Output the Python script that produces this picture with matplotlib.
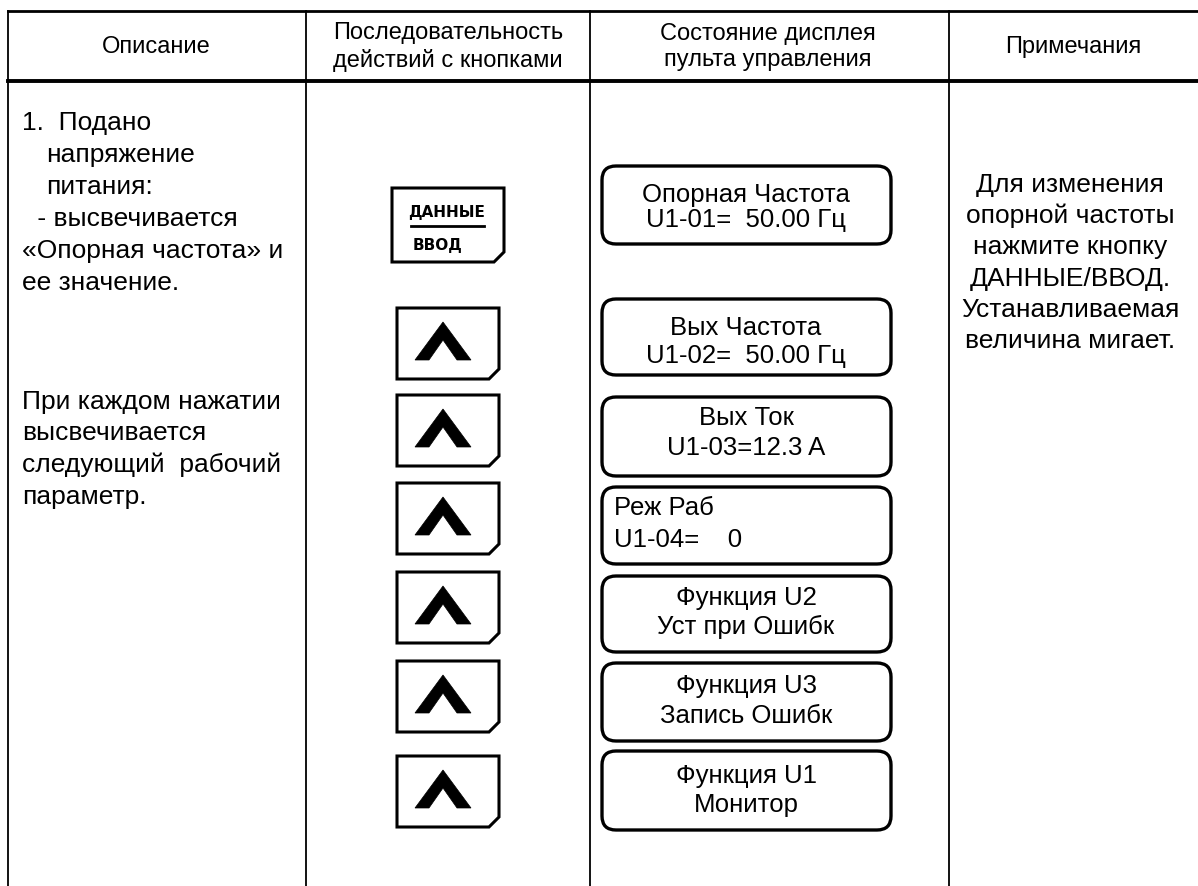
import matplotlib.pyplot as plt
from matplotlib.patches import FancyBboxPatch, Polygon

plt.rcParams['font.family'] = ['Liberation Sans', 'DejaVu Sans']

# table text
headers = ["Описание",
           "Последовательность\nдействий с кнопками",
           "Состояние дисплея\nпульта управления",
           "Примечания"]
desc_lines = ["1.  Подано", "напряжение", "питания:", " - высвечивается",
              "«Опорная частота» и", "ее значение.",
              "При каждом нажатии", "высвечивается", "следующий  рабочий", "параметр."]
notes_lines = ["Для изменения", "опорной частоты", "нажмите кнопку",
               "ДАННЫЕ/ВВОД.", "Устанавливаемая", "величина мигает."]
display_line1 = ["Опорная Частота", "Вых Частота", "Вых Ток", "Реж Раб",
                 "Функция U2", "Функция U3", "Функция U1"]
display_line2 = ["U1-01=  50.00 Гц", "U1-02=  50.00 Гц", "U1-03=12.3 A", "U1-04=    0",
                 "Уст при Ошибк", "Запись Ошибк", "Монитор"]
display_align = ["center", "center", "center", "left", "center", "center", "center"]
enter_key = ["ДАННЫЕ", "ВВОД"]

# layout (pixel coordinates)
col_x = [8, 306, 590, 949]
desc_pos = [(22, 123), (46, 155), (46, 187), (30, 219), (22, 251), (22, 283),
            (22, 402), (22, 433), (22, 465), (22, 497)]
box_y = [(167, 245), (300, 376), (398, 477), (488, 565), (577, 653), (664, 742), (752, 831)]
text_dy = [(28, 53), (28, 56), (20, 50), (20, 52), (21, 50), (22, 52), (24, 53)]
up_y = [309, 396, 484, 573, 662, 757]

fig = plt.figure(figsize=(11.98, 8.87), dpi=100)
ax = fig.add_axes([0, 0, 1, 1])
ax.set_xlim(0, 1198)
ax.set_ylim(887, 0)
ax.axis('off')

# grid lines
ax.plot([col_x[0], 1198], [12, 12], color='black', lw=2.0)
ax.plot([col_x[0], 1198], [82, 82], color='black', lw=2.8)
for x in col_x:
    ax.plot([x, x], [12, 887], color='black', lw=1.3)

# headers
head_cx = [156, 448, 768, 1073]
for cx, h in zip(head_cx, headers):
    ax.text(cx, 47, h, ha='center', va='center', fontsize=17, linespacing=1.25)

# description column
for (x, y), s in zip(desc_pos, desc_lines):
    ax.text(x, y, s, ha='left', va='center', fontsize=19)

# notes column
for i, s in enumerate(notes_lines):
    ax.text(1070, 185 + i * 31.2, s, ha='center', va='center', fontsize=19)

# display boxes
for (y0, y1), (d1, d2), t1, t2, al in zip(box_y, text_dy, display_line1, display_line2,
                                          display_align):
    box = FancyBboxPatch((602, y0), 289, y1 - y0, boxstyle="round,pad=0,rounding_size=14",
                         fc='white', ec='black', lw=2.4)
    ax.add_patch(box)
    if al == 'center':
        ax.text(746, y0 + d1, t1, ha='center', va='center', fontsize=18.5)
        ax.text(746, y0 + d2, t2, ha='center', va='center', fontsize=18.5)
    else:
        ax.text(614, y0 + d1, t1, ha='left', va='center', fontsize=18.5)
        ax.text(614, y0 + d2, t2, ha='left', va='center', fontsize=18.5)


def key_outline(x0, y0, w, h, c):
    pts = [(x0, y0), (x0 + w, y0), (x0 + w, y0 + h - c), (x0 + w - c, y0 + h), (x0, y0 + h)]
    ax.add_patch(Polygon(pts, closed=True, fc='white', ec='black', lw=2.2, joinstyle='miter'))


# ДАННЫЕ/ВВОД key
key_outline(392, 189, 112, 74, 10)
ax.text(447, 213, enter_key[0], ha='center', va='center', fontsize=11,
        fontweight='bold', family='DejaVu Sans')
ax.plot([411, 484], [227, 227], color='black', lw=2)
ax.text(413, 246, enter_key[1], ha='left', va='center', fontsize=11,
        fontweight='bold', family='DejaVu Sans')

# up keys
for y in up_y:
    key_outline(397, y, 102, 71, 10)
    caret = [(18, 52), (46, 14), (74, 52), (60, 52), (46, 32), (32, 52)]
    ax.add_patch(Polygon([(397 + dx, y + dy) for dx, dy in caret], closed=True,
                         fc='black', ec='black', lw=0.5))

fig.savefig('out.png', dpi=100)
